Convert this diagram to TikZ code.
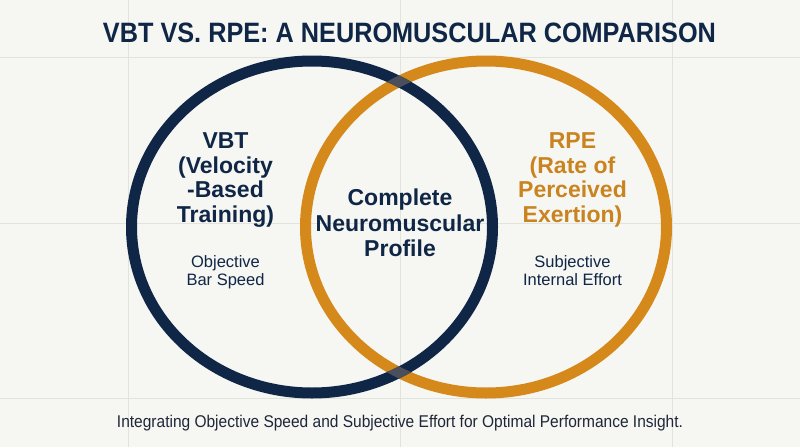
\documentclass[tikz,border=0pt]{standalone}
\usepackage{fontspec}
\setmainfont{Liberation Sans}
\usepackage{graphicx}
\definecolor{bgc}{HTML}{F6F6F2}
\definecolor{gridc}{HTML}{E3E3DE}
\definecolor{navy}{HTML}{0F2646}
\definecolor{orng}{HTML}{D4891A}
\definecolor{orngtxt}{HTML}{C9841F}
\definecolor{cross}{HTML}{4B4F5C}
\definecolor{subc}{HTML}{1E2638}
\tikzset{
  gridline/.style={draw=gridc, line width=1pt},
  ring/.style={line width=11pt},
  boldtxt/.style={font=\fontsize{23}{25}\selectfont\bfseries, inner sep=0pt, anchor=base},
  plaintxt/.style={font=\fontsize{16.5}{18}\selectfont, text=navy, inner sep=0pt, anchor=base},
}
\begin{document}
\begin{tikzpicture}[x=1pt,y=-1pt]
\fill[bgc] (0,0) rectangle (800,447);
\useasboundingbox (0,0) rectangle (800,447);
% grid
\foreach \gx in {128,400,672} \draw[gridline] (\gx,0) -- (\gx,447);
\foreach \gy in {57,223,398} \draw[gridline] (0,\gy) -- (800,\gy);
% rings
\coordinate (cl) at (312,227);
\coordinate (cr) at (486,227);
\draw[ring, orng] (cr) ellipse [x radius=180.5, y radius=166];
\draw[ring, navy] (cl) ellipse [x radius=180.5, y radius=166];
\begin{scope}[even odd rule]
  \clip (cr) ellipse [x radius=186, y radius=171.5] (cr) ellipse [x radius=175, y radius=160.5];
  \draw[ring, cross] (cl) ellipse [x radius=180.5, y radius=166];
\end{scope}
% title
\node[inner sep=0pt, anchor=base, text=navy, font=\fontsize{28}{30}\selectfont\bfseries] (title) at (409.5,42)
  {\resizebox{613pt}{\height}{VBT VS. RPE: A NEUROMUSCULAR COMPARISON}};
% left text
\node[boldtxt, text=navy] (l1) at (225.5,148.5) {VBT};
\node[boldtxt, text=navy] (l2) at (225.5,173) {(Velocity};
\node[boldtxt, text=navy] (l3) at (225.5,197.5) {-Based};
\node[boldtxt, text=navy] (l4) at (225.5,222) {Training)};
\node[plaintxt] (l5) at (225.5,267) {Objective};
\node[plaintxt] (l6) at (225.5,285) {Bar Speed};
% right text
\node[boldtxt, text=orngtxt] (r1) at (572.5,148.5) {RPE};
\node[boldtxt, text=orngtxt] (r2) at (572.5,173) {(Rate of};
\node[boldtxt, text=orngtxt] (r3) at (572.5,197.5) {Perceived};
\node[boldtxt, text=orngtxt] (r4) at (572.5,222) {Exertion)};
\node[plaintxt] (r5) at (572.5,267) {Subjective};
\node[plaintxt] (r6) at (572.5,285) {Internal Effort};
% center text
\node[boldtxt, text=navy] (c1) at (400,205.5) {Complete};
\node[boldtxt, text=navy] (c2) at (400,231) {Neuromuscular};
\node[boldtxt, text=navy] (c3) at (400,256.5) {Profile};
% subtitle
\node[inner sep=0pt, anchor=base, text=subc, font=\fontsize{17}{19}\selectfont] (sub) at (400,427)
  {\resizebox{566pt}{\height}{Integrating Objective Speed and Subjective Effort for Optimal Performance Insight.}};
\end{tikzpicture}
\end{document}
